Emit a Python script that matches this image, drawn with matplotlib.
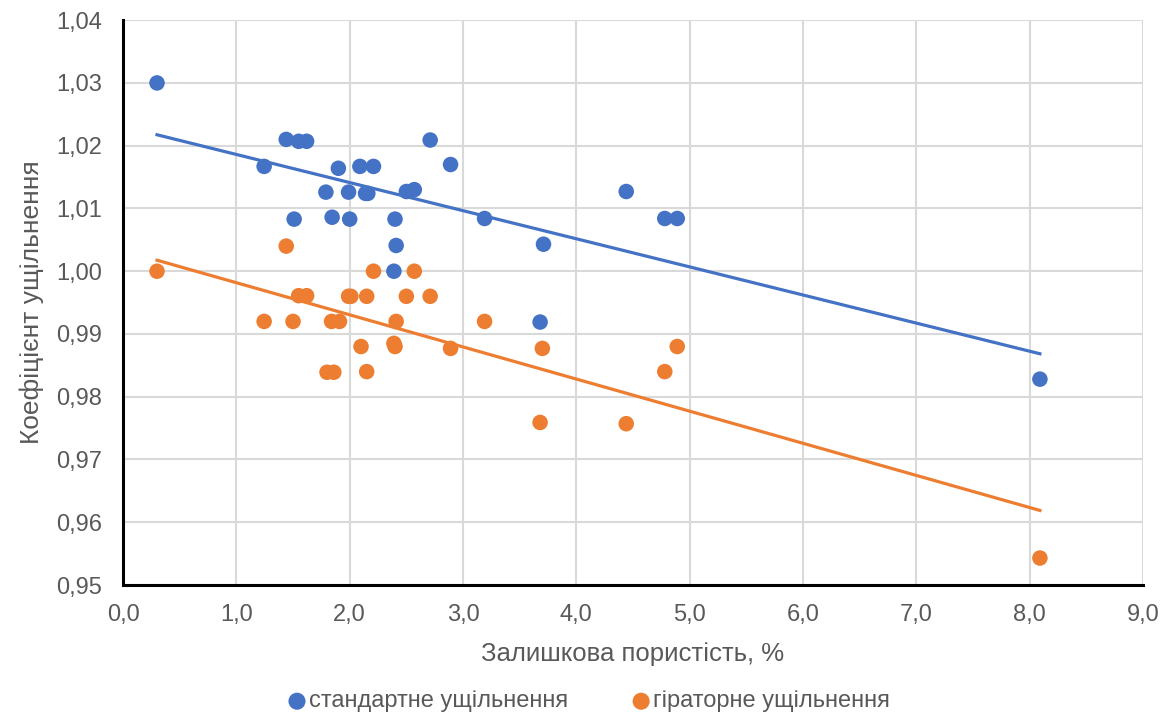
import matplotlib
matplotlib.use("Agg")
import matplotlib.pyplot as plt
import numpy as np
from matplotlib.ticker import FuncFormatter, MultipleLocator

plt.rcParams['font.family'] = ['Liberation Sans', 'DejaVu Sans']

# residual porosity, % / compaction coefficient
x_std = [0.30, 1.245, 1.44, 1.51, 1.55, 1.62, 1.79, 1.845, 1.90, 1.99, 2.00,
         2.09, 2.14, 2.16, 2.21, 2.39, 2.40, 2.41, 2.50, 2.57, 2.71, 2.89,
         3.19, 3.68, 3.71, 4.44, 4.78, 4.89, 8.09]
y_std = [1.0300, 1.0167, 1.0210, 1.0083, 1.0207, 1.0207, 1.0126, 1.0086, 1.0164,
         1.0126, 1.0083, 1.0167, 1.0124, 1.0124, 1.0167, 1.0000, 1.0083, 1.0041,
         1.0127, 1.0130, 1.0209, 1.0170, 1.0084, 0.9919, 1.0043, 1.0127, 1.0084,
         1.0084, 0.9828]

x_gyr = [0.30, 1.245, 1.44, 1.50, 1.55, 1.62, 1.80, 1.84, 1.86, 1.91, 1.99,
         2.01, 2.10, 2.15, 2.15, 2.21, 2.39, 2.40, 2.41, 2.50, 2.57, 2.71,
         2.89, 3.19, 3.68, 3.70, 4.44, 4.78, 4.89, 8.09]
y_gyr = [1.0000, 0.9920, 1.0040, 0.9920, 0.9961, 0.9961, 0.9839, 0.9920, 0.9839,
         0.9920, 0.9960, 0.9960, 0.9880, 0.9960, 0.9840, 1.0000, 0.9885, 0.9880,
         0.9920, 0.9960, 1.0000, 0.9960, 0.9877, 0.9920, 0.9759, 0.9877, 0.9757,
         0.9840, 0.9880, 0.9543]

series = [
    (x_std, y_std, '#4472C4', 'стандартне ущільнення'),
    (x_gyr, y_gyr, '#ED7D31', 'гіраторне ущільнення'),
]
grey = '#595959'

fig = plt.figure(figsize=(11.75, 7.15), dpi=100)
ax = fig.add_axes([0.1047, 0.1818, 0.8681, 0.790])

for xs, ys, col, lab in series:
    xs = np.array(xs)
    ys = np.array(ys)
    ax.scatter(xs, ys, s=125, color=col, edgecolors='none', zorder=3, label=lab)
    # linear trend over the data range
    k, b = np.polyfit(xs, ys, 1)
    xt = np.array([xs.min(), xs.max()])
    ax.plot(xt, k * xt + b, color=col, lw=2.3, zorder=2)

ax.set_xlim(0, 9)
ax.set_ylim(0.95, 1.04)
ax.xaxis.set_major_locator(MultipleLocator(1))
ax.yaxis.set_major_locator(MultipleLocator(0.01))
ax.xaxis.set_major_formatter(FuncFormatter(lambda v, p: f"{v:.1f}".replace('.', ',')))
ax.yaxis.set_major_formatter(FuncFormatter(lambda v, p: f"{v:.2f}".replace('.', ',')))

ax.grid(True, color='#d9d9d9', lw=1.5)
ax.set_axisbelow(True)
for s in ['top', 'right']:
    ax.spines[s].set_visible(False)
for s in ['left', 'bottom']:
    ax.spines[s].set_color('black')
    ax.spines[s].set_linewidth(2.2)
ax.tick_params(length=0, labelsize=17, labelcolor=grey)
ax.tick_params(axis='y', pad=15)
ax.tick_params(axis='x', pad=14)

ax.set_xlabel('Залишкова пористість, %', fontsize=18.5, color=grey, va='center')
ax.set_ylabel('Коефіцієнт ущільнення', fontsize=19, color=grey, va='center')
ax.xaxis.set_label_coords(0.5, -0.122)
ax.yaxis.set_label_coords(-0.089, 0.5)

leg = fig.legend(loc='center', bbox_to_anchor=(0.5, 0.019), ncol=2, frameon=False,
                 fontsize=17, handlelength=1.0, handletextpad=0.0, columnspacing=2.6,
                 borderpad=0, markerscale=1.1)
for t in leg.get_texts():
    t.set_color(grey)

fig.savefig('out.png', dpi=100)
